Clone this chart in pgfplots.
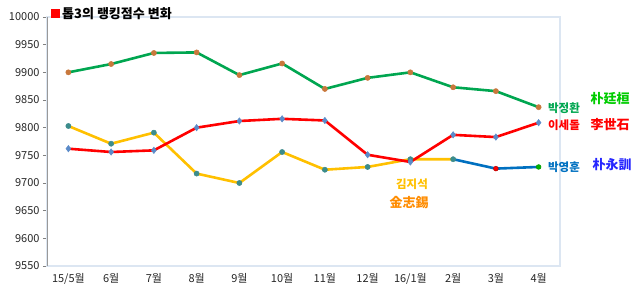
\documentclass[border=0pt]{standalone}
\usepackage{pgfplots}
\pgfplotsset{compat=1.18}
\usepackage{fontspec}
\setmainfont{Noto Sans CJK KR}
\definecolor{lgreen}{HTML}{00A650}
\definecolor{mgreen}{HTML}{C8783C}
\definecolor{lred}{HTML}{FF0000}
\definecolor{mred}{HTML}{5B8BC9}
\definecolor{lyel}{HTML}{FFC000}
\definecolor{myel}{HTML}{3C8C8C}
\definecolor{lblue}{HTML}{0070C0}
\definecolor{frame}{HTML}{DCE6F2}
\begin{document}
\begin{tikzpicture}[x=1pt,y=1pt]
\useasboundingbox (0,0) rectangle (640,292);
\begin{axis}[
  at={(47pt,26pt)}, anchor=south west,
  scale only axis, width=513pt, height=249pt,
  xmin=-0.5, xmax=11.5, ymin=9550, ymax=10000,
  xtick={0,...,11},
  xticklabels={15/5월,6월,7월,8월,9월,10월,11월,12월,16/1월,2월,3월,4월},
  ytick={9550,9600,...,10000},
  scaled y ticks=false,
  yticklabel={\pgfmathprintnumber[fixed,precision=0,1000 sep={},assume math mode=true]{\tick}},
  ytick pos=left,
  tick label style={font=\fontsize{11}{12}\selectfont, text=black!85},
  axis line style={draw=frame, line width=1.2pt},
  xtick style={draw=none},
  ytick style={draw=gray, line width=0.6pt},
  tick align=outside, major tick length=4pt,
  clip=false,
  every axis plot/.append style={line width=2.6pt},
]
\draw[gray!80, line width=1pt] (rel axis cs:0,0) -- (rel axis cs:0,1);
% green
\addplot[lgreen, mark=*, mark size=2.6pt, mark options={fill=mgreen, draw=mgreen, line width=0.5pt}] coordinates {
(0,9900)(1,9915)(2,9935)(3,9936)(4,9895)(5,9916)(6,9870)(7,9890)(8,9900)(9,9873)(10,9866)(11,9837)};
% yellow
\addplot[lyel, mark=*, mark size=2.6pt, mark options={fill=myel, draw=myel, line width=0.5pt}] coordinates {
(0,9803)(1,9771)(2,9791)(3,9717)(4,9700)(5,9756)(6,9724)(7,9729)(8,9743)(9,9743)};
% blue
\addplot[lblue, no marks] coordinates {
(9,9743)(10,9726)(11,9729)};
\addplot[only marks, mark=*, mark size=2.4pt, mark options={fill=red, draw=red!70!black, line width=0.5pt}] coordinates {(10,9726)};
\addplot[only marks, mark=*, mark size=2.4pt, mark options={fill=green!70!black, draw=green!60!black, line width=0.5pt}] coordinates {(11,9729)};
% red
\addplot[lred, mark=diamond*, mark size=3.2pt, mark options={fill=mred, draw=mred, line width=0.5pt}] coordinates {
(0,9762)(1,9756)(2,9759)(3,9800)(4,9812)(5,9816)(6,9813)(7,9751)(8,9738)(9,9787)(10,9783)(11,9809)};
\end{axis}
\fill[red] (51,274) rectangle (60,283);
\node[anchor=west, inner sep=0pt, font=\fontsize{13}{15}\selectfont\bfseries] at (62,278) {톱3의 랭킹점수 변화};
\node[text=lgreen, font=\fontsize{11.5}{13}\selectfont\bfseries, inner sep=0pt] at (564,184) {박정환};
\node[text=green!80!black, font=\fontsize{13}{15}\selectfont\bfseries, inner sep=0pt] at (610,193) {朴廷桓};
\node[text=lred, font=\fontsize{11.5}{13}\selectfont\bfseries, inner sep=0pt] at (564,167) {이세돌};
\node[text=lred, font=\fontsize{13}{15}\selectfont\bfseries, inner sep=0pt] at (610,167) {李世石};
\node[text=lblue, font=\fontsize{11.5}{13}\selectfont\bfseries, inner sep=0pt] at (564,125) {박영훈};
\node[text=blue!85!white, font=\fontsize{13}{15}\selectfont\bfseries, inner sep=0pt] at (612,127) {朴永訓};
\node[text=lyel, font=\fontsize{11.5}{13}\selectfont\bfseries, inner sep=0pt] at (412,108) {김지석};
\node[text=orange!90!yellow, font=\fontsize{13}{15}\selectfont\bfseries, inner sep=0pt] at (409,89) {金志錫};
\end{tikzpicture}
\end{document}
